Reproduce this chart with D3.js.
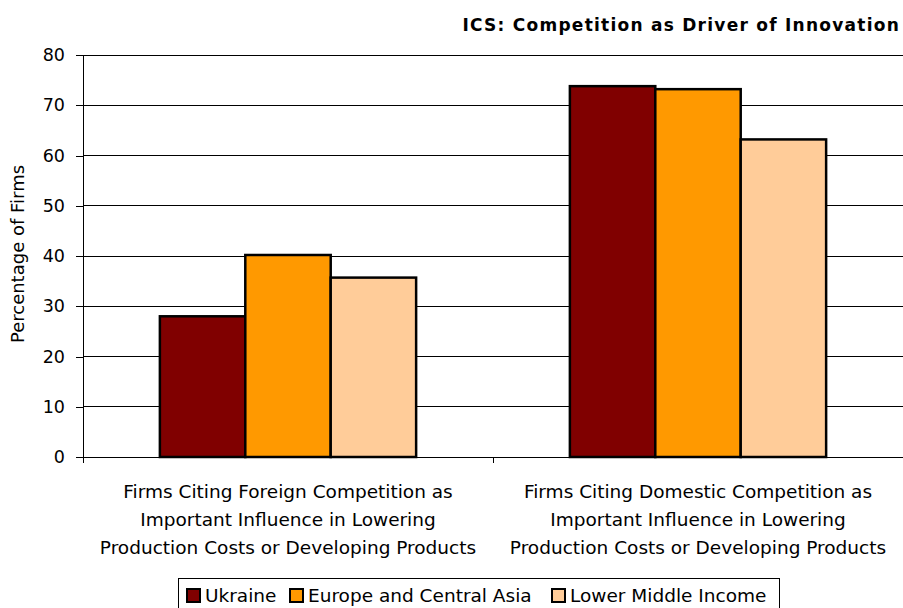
<!DOCTYPE html>
<html>
<head>
<meta charset="utf-8">
<script src="https://cdn.jsdelivr.net/npm/d3@7"></script>
<style>
  body { margin: 0; background: #fff; }
  text { font-family: "DejaVu Sans", sans-serif; fill: #000; }
</style>
</head>
<body>
<svg id="chart" width="903" height="608"></svg>
<script>
var categories = [
    ["Firms Citing Foreign Competition as", "Important Influence in Lowering", "Production Costs or Developing Products"],
    ["Firms Citing Domestic Competition as", "Important Influence in Lowering", "Production Costs or Developing Products"]
];
var seriesNames = ["Ukraine", "Europe and Central Asia", "Lower Middle Income"];
var ukraine = [28, 73.8];
var europe = [40.2, 73.2];
var lowerMiddle = [35.7, 63.2];
var yTicks = [0, 10, 20, 30, 40, 50, 60, 70, 80];
var colors = ["#800000", "#ff9900", "#ffcc99"];

var series = [ukraine, europe, lowerMiddle];

var svg = d3.select("#chart");
var margin = {left: 83, top: 55, right: 0, bottom: 151};
var width = 903 - margin.left - margin.right,
    height = 608 - margin.top - margin.bottom;

var g = svg.append("g").attr("transform", "translate(" + margin.left + "," + margin.top + ")");

var x0 = d3.scaleBand().domain([0, 1]).range([0, width]);
var x1 = d3.scaleBand().domain([0, 1, 2]).range([0, x0.bandwidth()]).paddingOuter(0.9).paddingInner(0);
var y = d3.scaleLinear().domain([0, 80]).range([height, 0]);

// gridlines
g.selectAll("line.grid")
    .data(yTicks.slice(1))
    .join("line")
    .attr("class", "grid")
    .attr("x1", 0).attr("x2", width)
    .attr("y1", d => y(d)).attr("y2", d => y(d))
    .attr("stroke", "#000").attr("stroke-width", 1).attr("shape-rendering", "crispEdges");

// y axis
var yAxis = g.append("g")
    .call(d3.axisLeft(y).tickValues(yTicks).tickSize(7).tickPadding(11));
yAxis.select(".domain").attr("d", "M0," + (height + 6) + "V0").attr("stroke", "#000");
yAxis.selectAll("text").style("font-size", "17.5px").style("font-family", "DejaVu Sans");
yAxis.selectAll("line,path").attr("shape-rendering", "crispEdges");

// x axis
var xAxis = g.append("g").attr("transform", "translate(0," + height + ")");
xAxis.append("line").attr("x1", 0).attr("x2", width).attr("stroke", "#000").attr("shape-rendering", "crispEdges");
xAxis.selectAll("line.tk")
    .data([1, 2])
    .join("line")
    .attr("class", "tk")
    .attr("x1", d => d * x0.bandwidth()).attr("x2", d => d * x0.bandwidth())
    .attr("y1", 0).attr("y2", 6)
    .attr("stroke", "#000").attr("shape-rendering", "crispEdges");

// bars
series.forEach(function(vals, s) {
    g.selectAll("rect.s" + s)
        .data(vals)
        .join("rect")
        .attr("class", "s" + s)
        .attr("x", (d, i) => x0(i) + x1(s))
        .attr("y", d => y(d))
        .attr("width", x1.bandwidth())
        .attr("height", d => height - y(d))
        .attr("fill", colors[s])
        .attr("stroke", "#000")
        .attr("stroke-width", 2.5);
});

// category labels
categories.forEach(function(lines, i) {
    var t = g.append("text")
        .attr("text-anchor", "middle")
        .attr("y", height + 41)
        .style("font-size", "18.5px");
    lines.forEach(function(l, j) {
        t.append("tspan").attr("x", x0(i) + x0.bandwidth() / 2).attr("dy", j ? 28 : 0).text(l);
    });
});

// y title
svg.append("text")
    .attr("transform", "translate(24,254) rotate(-90)")
    .attr("text-anchor", "middle")
    .style("font-size", "18px")
    .text("Percentage of Firms");

// chart title
svg.append("text")
    .attr("x", 900).attr("y", 31)
    .attr("text-anchor", "end")
    .style("font-size", "17px")
    .style("font-weight", "bold")
    .style("letter-spacing", "1.25px")
    .text("ICS: Competition as Driver of Innovation");

// legend
var legend = svg.append("g");
legend.append("rect")
    .attr("x", 178.5).attr("y", 578.5).attr("width", 601).attr("height", 40)
    .attr("fill", "#fff").attr("stroke", "#000");
var lx = [187, 290, 552];
seriesNames.forEach(function(n, i) {
    legend.append("rect")
        .attr("x", lx[i]).attr("y", 589).attr("width", 13).attr("height", 13)
        .attr("fill", colors[i]).attr("stroke", "#000").attr("stroke-width", 2);
    legend.append("text")
        .attr("x", lx[i] + 18).attr("y", 602)
        .style("font-size", "18.5px")
        .text(n);
});
</script>
</body>
</html>
